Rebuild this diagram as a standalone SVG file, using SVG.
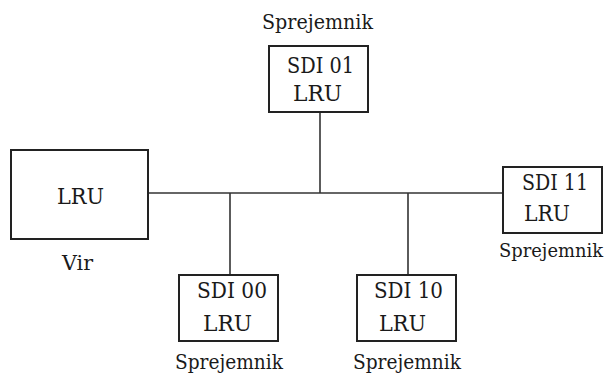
<svg xmlns="http://www.w3.org/2000/svg" width="608" height="378" viewBox="0 0 608 378">
  <style>
    .box { fill: #ffffff; stroke: #222222; stroke-width: 2; }
    .wire { fill: none; stroke: #333333; stroke-width: 1.6; }
    .t { font-family: 'DejaVu Serif', 'Liberation Serif', serif; fill: #1a1a1a; }
    .big { font-size: 22px; }
    .lbl { font-size: 20px; }
  </style>
  <rect width="608" height="378" fill="#ffffff"/>

  <!-- bus and drops -->
  <g id="connectors">
    <line class="wire" x1="148" y1="193" x2="503" y2="193"/>
    <line class="wire" x1="320" y1="112" x2="320" y2="193"/>
    <line class="wire" x1="230" y1="193" x2="230" y2="275"/>
    <line class="wire" x1="408" y1="193" x2="408" y2="275"/>
  </g>

  <g id="source">
    <rect class="box" x="11" y="150" width="137" height="89"/>
    <text class="t big" x="57" y="204" textLength="47" lengthAdjust="spacingAndGlyphs">LRU</text>
    <text class="t lbl" x="62" y="270" textLength="31" lengthAdjust="spacingAndGlyphs">Vir</text>
  </g>

  <g id="sdi01">
    <text class="t lbl" x="262" y="29" textLength="111" lengthAdjust="spacingAndGlyphs">Sprejemnik</text>
    <rect class="box" x="269" y="46" width="99" height="66"/>
    <text class="t big" x="287" y="73" textLength="67" lengthAdjust="spacingAndGlyphs">SDI 01</text>
    <text class="t big" x="293" y="101" textLength="49" lengthAdjust="spacingAndGlyphs">LRU</text>
  </g>

  <g id="sdi11">
    <rect class="box" x="503" y="167" width="99" height="66"/>
    <text class="t big" x="522" y="190" textLength="66" lengthAdjust="spacingAndGlyphs">SDI 11</text>
    <text class="t big" x="524" y="221" textLength="46" lengthAdjust="spacingAndGlyphs">LRU</text>
    <!-- edge label: smaller nominal size so it stays inside the frame -->
    <text class="t" font-size="18" x="499" y="257" textLength="104" lengthAdjust="spacingAndGlyphs">Sprejemnik</text>
  </g>

  <g id="sdi00">
    <rect class="box" x="179" y="275" width="99" height="66"/>
    <text class="t big" x="197" y="298" textLength="70" lengthAdjust="spacingAndGlyphs">SDI 00</text>
    <text class="t big" x="203" y="331" textLength="49" lengthAdjust="spacingAndGlyphs">LRU</text>
    <text class="t lbl" x="175" y="369" textLength="108" lengthAdjust="spacingAndGlyphs">Sprejemnik</text>
  </g>

  <g id="sdi10">
    <rect class="box" x="357" y="275" width="99" height="66"/>
    <text class="t big" x="374" y="298" textLength="69" lengthAdjust="spacingAndGlyphs">SDI 10</text>
    <text class="t big" x="379" y="331" textLength="47" lengthAdjust="spacingAndGlyphs">LRU</text>
    <text class="t lbl" x="353" y="369" textLength="108" lengthAdjust="spacingAndGlyphs">Sprejemnik</text>
  </g>
</svg>
